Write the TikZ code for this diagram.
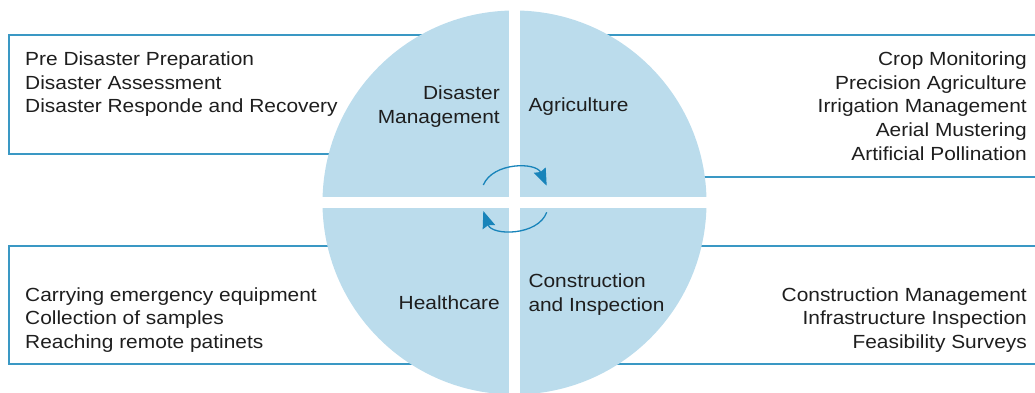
\documentclass[tikz,border=0pt]{standalone}
\usepackage{fontspec}
\setmainfont{Liberation Sans}[FakeStretch=1.1]
\usetikzlibrary{arrows.meta}

\definecolor{diskblue}{RGB}{187,220,236}
\definecolor{framebl}{RGB}{58,152,196}
\definecolor{arrowbl}{RGB}{24,132,186}
\definecolor{inkgray}{RGB}{30,30,30}

\tikzset{
	listtext/.style={inner sep=0pt, text=inkgray, font=\fontsize{19}{23.5}\selectfont},
	frameline/.style={draw=framebl, line width=1.4pt},
	cycle arrow/.style={draw=arrowbl, line width=1.3pt, -{Stealth[length=17pt, width=13pt, inset=2pt]}}
}

\begin{document}
\begin{tikzpicture}[x=1pt, y=-1pt]
	\useasboundingbox (0,0) rectangle (1035,393);

	\coordinate (ctr) at (514.5,202.5);

	% frames behind the disk
	\draw[frameline] (514,35) -- (9,35) -- (9,154) -- (514,154);
	\draw[frameline] (514,246) -- (9,246) -- (9,364) -- (514,364);
	\draw[frameline] (514,35) -- (1040,35);
	\draw[frameline] (514,177) -- (1040,177);
	\draw[frameline] (514,246) -- (1040,246);
	\draw[frameline] (514,364) -- (1040,364);

	% disk cut in four
	\fill[diskblue] (ctr) circle[radius=192];
	\fill[white] (509,0) rectangle (520,400);
	\fill[white] (300,196.7) rectangle (730,208.3);

	% quadrant labels (base = last line)
	\node[listtext, anchor=base east, align=right] (dm) at (500,123.3) {Disaster\\Management};
	\node[listtext, anchor=base west] (ag) at (528.3,111) {Agriculture};
	\node[listtext, anchor=base east] (hc) at (500,309) {Healthcare};
	\node[listtext, anchor=base west, align=left] (ci) at (528.3,311) {Construction\\and Inspection};

	% lists
	\node[listtext, anchor=base west, align=left] (dmlist) at (25,112.7)
		{Pre Disaster Preparation\\Disaster Assessment\\Disaster Responde and Recovery};
	\node[listtext, anchor=base east, align=right] (aglist) at (1027,160)
		{Crop Monitoring\\Precision Agriculture\\Irrigation Management\\Aerial Mustering\\Artificial Pollination};
	\node[listtext, anchor=base west, align=left] (hclist) at (25,348.3)
		{Carrying emergency equipment\\Collection of samples\\Reaching remote patinets};
	\node[listtext, anchor=base east, align=right] (cilist) at (1027,348.3)
		{Construction Management\\Infrastructure Inspection\\Feasibility Surveys};

	% cycle arrows
	\coordinate (up1) at (483.3,185);
	\coordinate (up2) at (546.7,185.7);
	\coordinate (lo1) at (546.7,212.3);
	\coordinate (lo2) at (483.3,211);
	\draw[cycle arrow] (up1) .. controls (493,162) and (536,162) .. (up2);
	\draw[cycle arrow] (lo1) .. controls (538,236) and (492,236) .. (lo2);
\end{tikzpicture}
\end{document}
